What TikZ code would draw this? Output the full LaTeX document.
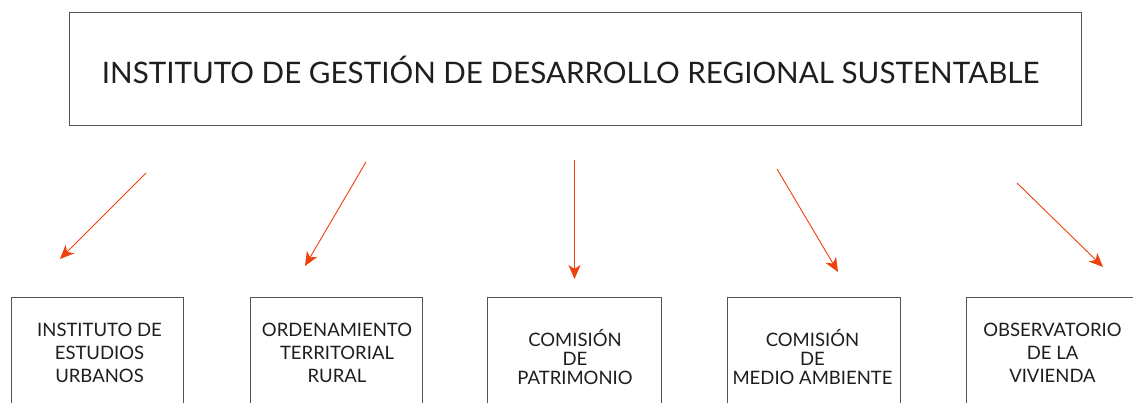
\documentclass[tikz,border=0pt]{standalone}
\usepackage{fontspec}
\setmainfont{Lato}
\usetikzlibrary{arrows.meta}
\definecolor{arrowred}{HTML}{F0400C}
\definecolor{boxgray}{HTML}{555555}
\definecolor{txt}{HTML}{1E1E1E}
\tikzset{
  frame/.style={draw=boxgray, line width=0.9pt},
  title/.style={anchor=base, inner sep=0pt, text=txt, font=\fontsize{29.6}{31}\selectfont},
  lbl/.style={anchor=base, inner sep=0pt, text=txt, font=\fontsize{18.5}{20}\selectfont},
  conn/.style={draw=arrowred, line width=0.9pt, -{Stealth[length=14pt,width=12pt,inset=4pt]}}
}
\begin{document}
\begin{tikzpicture}[x=1pt,y=-1pt]
\useasboundingbox (0,0) rectangle (1133,403);
\clip (0,0) rectangle (1133,403);
\fill[white] (0,0) rectangle (1133,403);
% top box
\draw[frame] (69,12.5) rectangle (1081,125.5);
\node[title] (t) at (570.5,83.3) {INSTITUTO DE GESTIÓN DE DESARROLLO REGIONAL SUSTENTABLE};
% bottom boxes
\draw[frame] (11,297) rectangle (183.5,420);
\draw[frame] (250,297) rectangle (422.5,420);
\draw[frame] (487,297) rectangle (661.5,420);
\draw[frame] (727,297) rectangle (900,420);
\draw[frame] (966,297) rectangle (1140,420);
% labels
\node[lbl] (a1) at (99.5,337) {INSTITUTO DE};
\node[lbl] (a2) at (99.5,359.5) {ESTUDIOS};
\node[lbl] (a3) at (99.5,382) {URBANOS};
\node[lbl] (b1) at (337,337) {ORDENAMIENTO};
\node[lbl] (b2) at (337,359.5) {TERRITORIAL};
\node[lbl] (b3) at (337,382) {RURAL};
\node[lbl] (c1) at (575,346.5) {COMISIÓN};
\node[lbl] (c2) at (575,365.5) {DE};
\node[lbl] (c3) at (575,384.5) {PATRIMONIO};
\node[lbl] (d1) at (812.5,346.5) {COMISIÓN};
\node[lbl] (d2) at (812.5,365.5) {DE};
\node[lbl] (d3) at (812.5,384.5) {MEDIO AMBIENTE};
\node[lbl] (e1) at (1052.5,337) {OBSERVATORIO};
\node[lbl] (e2) at (1052.5,359.5) {DE LA};
\node[lbl] (e3) at (1052.5,382) {VIVIENDA};
% arrow endpoints
\coordinate (s1) at (146,173);  \coordinate (e1t) at (60,259);
\coordinate (s2) at (366,162);  \coordinate (e2t) at (305,266);
\coordinate (s3) at (574.5,160); \coordinate (e3t) at (574.5,279);
\coordinate (s4) at (777,169);  \coordinate (e4t) at (838,272);
\coordinate (s5) at (1017,183); \coordinate (e5t) at (1103,267);
\draw[conn] (s1) -- (e1t);
\draw[conn] (s2) -- (e2t);
\draw[conn] (s3) -- (e3t);
\draw[conn] (s4) -- (e4t);
\draw[conn] (s5) -- (e5t);
\end{tikzpicture}
\end{document}
